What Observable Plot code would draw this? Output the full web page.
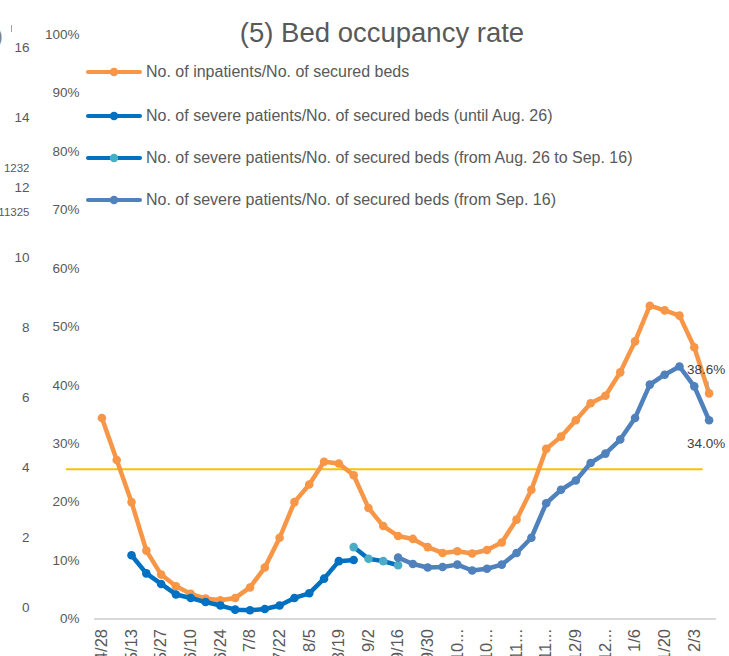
<!DOCTYPE html>
<html>
<head>
<meta charset="utf-8">
<script src="https://cdn.jsdelivr.net/npm/d3@7"></script>
<script src="https://cdn.jsdelivr.net/npm/@observablehq/plot@0.6"></script>
<style>
  html, body { margin: 0; padding: 0; background: #fff; }
  #wrap { position: relative; width: 729px; height: 656px; overflow: hidden; font-family: "Liberation Sans", Arial, sans-serif; }
  #wrap svg { position: absolute; left: 0; top: 0; }
  .abs { position: absolute; white-space: nowrap; color: #595959; }
  .leg { position: absolute; left: 86px; height: 12px; }
  .leg svg { position: absolute; left: 0; top: 0; }
  .leg span { position: absolute; left: 60px; top: -4px; font-size: 16px; color: #595959; white-space: nowrap; line-height: 20px; }
</style>
</head>
<body>
<div id="wrap"></div>
<script>
// ---- data (values in %) ----
const tickLabels = ["4/28","5/13","5/27","6/10","6/24","7/8","7/22","8/5","8/19","9/2","9/16","9/30","10...","10...","11...","11...","12/9","12...","1/6","1/20","2/3"];

const inpatients = [34.4,27.2,20.0,11.7,7.6,5.6,4.3,3.5,3.2,3.6,5.4,8.8,13.9,20.0,23.0,26.9,26.6,24.6,19.0,15.9,14.2,13.7,12.3,11.3,11.6,11.2,11.8,13.1,17.0,22.1,29.1,31.2,34.0,36.9,38.2,42.2,47.5,53.6,52.8,51.9,46.5,38.6];

const severeUntilAug26 = [null,null,10.9,7.8,6.0,4.2,3.6,2.9,2.3,1.6,1.5,1.7,2.3,3.6,4.4,6.9,9.9,10.1,null,null,null,null,null,null,null,null,null,null,null,null,null,null,null,null,null,null,null,null,null,null,null,null];

const severeAug26toSep16 = [null,null,null,null,null,null,null,null,null,null,null,null,null,null,null,null,null,12.3,10.3,9.9,9.2,null,null,null,null,null,null,null,null,null,null,null,null,null,null,null,null,null,null,null,null,null];

const severeFromSep16 = [null,null,null,null,null,null,null,null,null,null,null,null,null,null,null,null,null,null,null,null,10.5,9.4,8.8,8.9,9.3,8.3,8.6,9.3,11.3,13.9,19.8,22.1,23.7,26.7,28.3,30.7,34.4,40.1,41.8,43.2,39.8,34.0];

const thresholdValue = [25.6];
const secondaryTicks = [0,2,4,6,8,10,12,14,16];
const strayLabels = [{v: 12.54, t: "1232"}, {v: 11.29, t: "11325"}];

const seriesNames = [
  "No. of inpatients/No. of secured beds",
  "No. of severe patients/No. of secured beds (until Aug. 26)",
  "No. of severe patients/No. of secured beds (from Aug. 26 to Sep. 16)",
  "No. of severe patients/No. of secured beds (from Sep. 16)"
];
const lineColors = ["#F79646", "#0070C0", "#0070C0", "#4F81BD"];
const dotColors  = ["#F79646", "#0070C0", "#4BACC6", "#4F81BD"];
const seriesValues = [inpatients, severeUntilAug26, severeAug26toSep16, severeFromSep16];

// ---- build tidy rows ----
const rows = [];
seriesValues.forEach((arr, s) => arr.forEach((v, i) => { if (v != null) rows.push({s, i: i + 1, v}); }));
const n = inpatients.length;
const lastOrange = [{i: n, v: inpatients[n - 1]}];
const lastBlue = [{i: n, v: severeFromSep16[n - 1]}];

const font = "Liberation Sans, Arial, sans-serif";

const main = Plot.plot({
  width: 729,
  height: 656,
  marginLeft: 94,
  marginRight: 13,
  marginTop: 34,
  marginBottom: 37.5,
  style: {fontFamily: font, fontSize: "13.5px", color: "#595959", background: "transparent", overflow: "visible"},
  x: {type: "linear", domain: [0.5, n + 0.5], label: null},
  y: {domain: [0, 100], label: null},
  marks: [
    Plot.ruleY([0], {stroke: "#D9D9D9", strokeWidth: 2}),
    Plot.axisY({ticks: d3.range(0, 101, 10), label: null, tickSize: 0, tickPadding: 15, tickFormat: d => d + "%", fill: "#595959", fontSize: 13.5}),
    Plot.axisX({ticks: d3.range(1, n, 2), label: null, tickSize: 0, tickPadding: 10, tickRotate: -90, tickFormat: d => tickLabels[(d - 1) / 2], fill: "#595959", fontSize: 16.5}),
    Plot.ruleY(thresholdValue, {x1: 0.5 - 28 / 14.81, x2: n - 0.4, stroke: "#FFC000", strokeWidth: 2}),
    ...[0, 1, 2, 3].flatMap(s => [
      Plot.line(rows.filter(d => d.s === s), {x: "i", y: "v", stroke: lineColors[s], strokeWidth: 4.5, strokeLinejoin: "round", strokeLinecap: "round"}),
      Plot.dot(rows.filter(d => d.s === s), {x: "i", y: "v", r: 4.3, fill: dotColors[s], stroke: "none"})
    ]),
    // leader line of the data label
    Plot.ruleX(lastOrange, {x: "i", y1: d => d.v + 0.6, y2: d => d.v + 2.0, dx: -1, stroke: "#A6A6A6", strokeWidth: 1}),
    Plot.text(lastOrange, {x: "i", y: "v", text: d => d.v.toFixed(1) + "%", dy: -24, dx: -3, fill: "#404040", fontSize: 13.5}),
    Plot.text(lastBlue, {x: "i", y: "v", text: d => d.v.toFixed(1) + "%", dy: 23, dx: -3, fill: "#404040", fontSize: 13.5})
  ]
});

const secondary = Plot.plot({
  width: 60,
  height: 656,
  marginLeft: 32,
  marginRight: 0,
  marginTop: 47,
  marginBottom: 49,
  style: {fontFamily: font, fontSize: "13.5px", color: "#595959", background: "transparent", overflow: "visible"},
  y: {domain: [0, 16], label: null},
  marks: [
    Plot.axisY({ticks: secondaryTicks, label: null, tickSize: 0, tickPadding: 3, fill: "#595959", fontSize: 13.5}),
    Plot.text(strayLabels, {y: "v", text: "t", frameAnchor: "left", dx: -3, textAnchor: "end", fill: "#595959", fontSize: 11.5})
  ]
});

const wrap = document.getElementById("wrap");
wrap.appendChild(secondary);
wrap.appendChild(main);

// title
const title = document.createElement("div");
title.className = "abs";
title.textContent = "(5) Bed occupancy rate";
title.style.cssText = "left:382px;top:17px;transform:translateX(-50%);font-size:27.5px;line-height:32px;";
wrap.appendChild(title);

// stray fragments at the left edge
const frag1 = document.createElement("div");
frag1.className = "abs";
frag1.textContent = ")";
frag1.style.cssText = "left:-4px;top:24px;font-size:20px;line-height:24px;color:#808080;";
wrap.appendChild(frag1);
const frag2 = document.createElement("div");
frag2.className = "abs";
frag2.style.cssText = "left:11px;top:25px;width:1px;height:7px;background:#a0a0a0;";
wrap.appendChild(frag2);

// legend
const legendY = [72, 116, 158, 200];
seriesNames.forEach((name, s) => {
  const item = document.createElement("div");
  item.className = "leg";
  item.style.top = (legendY[s] - 6) + "px";
  item.innerHTML = `<svg width="58" height="12"><line x1="2" y1="6" x2="54" y2="6" stroke="${lineColors[s]}" stroke-width="4" stroke-linecap="round"/><circle cx="28" cy="6" r="4.3" fill="${dotColors[s]}"/></svg><span>${name}</span>`;
  wrap.appendChild(item);
});
</script>
</body>
</html>
